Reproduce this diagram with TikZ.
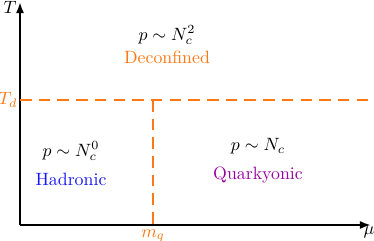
\documentclass[tikz,border=0pt]{standalone}
\usepackage{amsmath,amssymb}
\usepackage{xcolor}
\usetikzlibrary{arrows.meta,positioning}
\definecolor{phaseorange}{RGB}{255,120,20}
\definecolor{hadblue}{RGB}{20,20,245}
\definecolor{quarkpurple}{RGB}{150,0,160}

\begin{document}
\begin{tikzpicture}[
  x=0.5615pt, y=-0.5615pt,
  axis/.style={line width=1.1pt, -{Latex[length=2.2mm, width=1.6mm]}},
  border/.style={phaseorange, line width=1.2pt, dash pattern=on 6.5pt off 4pt},
  lbl/.style={inner sep=1pt}
]
\useasboundingbox (0,0) rectangle (374,241);
\coordinate (origin) at (20,225);
\coordinate (ytop) at (20,2);
\coordinate (xend) at (371,225);
\coordinate (tdleft) at (20,100);
\coordinate (tdright) at (372,100);
\coordinate (mqtop) at (153,100);
\coordinate (mqbot) at (153,225);

% axes
\draw[axis] (origin) -- (ytop);
\draw[axis] (origin) -- (xend);
\node[lbl] (tlabel) at (10,7) {$T$};
\node[lbl] (mulabel) at (369,232) {$\mu$};

% phase boundaries
\draw[border] (tdleft) -- (tdright);
\draw[border] (mqtop) -- (mqbot);
\node[lbl, text=phaseorange] (tdlabel) at (8,100) {$T_d$};
\node[lbl, text=phaseorange] (mqlabel) at (153,236) {$m_q$};

% phases
\node[lbl] (deconfp) at (167,35) {$p\sim N_c^2$};
\node[lbl, text=phaseorange, below=1.5pt of deconfp] (deconf) {Deconfined};
\node[lbl] (hadp) at (71,151) {$p\sim N_c^0$};
\node[lbl, text=hadblue, below=5pt of hadp] (had) {Hadronic};
\node[lbl] (quarkp) at (258,146) {$p\sim N_c$};
\node[lbl, text=quarkpurple, below=5pt of quarkp] (quark) {Quarkyonic};
\end{tikzpicture}
\end{document}
